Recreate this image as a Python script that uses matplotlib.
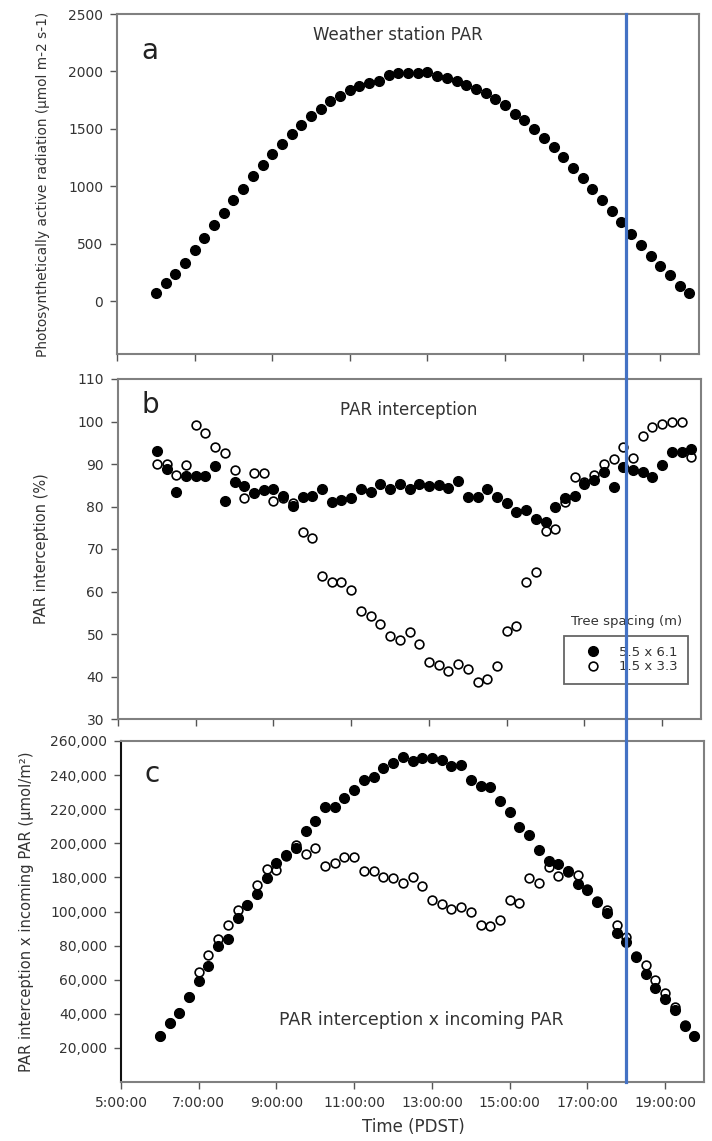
import numpy as np
import matplotlib
matplotlib.use('Agg')
import matplotlib.pyplot as plt
from matplotlib.lines import Line2D
from matplotlib.ticker import FuncFormatter

# readings every 15 minutes, 6:00 .. 19:45 (PDST, decimal hours)
times = np.arange(6.0, 19.76, 0.25)

# a: weather station PAR (umol m-2 s-1)
par_station = [72, 159, 238, 330, 443, 550, 660, 771, 878, 979,
               1089, 1188, 1278, 1365, 1454, 1535, 1611, 1672, 1741, 1787,
               1840, 1869, 1900, 1921, 1973, 1990, 1987, 1990, 1999, 1964,
               1947, 1921, 1886, 1848, 1814, 1761, 1712, 1631, 1573, 1501,
               1420, 1338, 1254, 1159, 1075, 976, 884, 785, 687, 585,
               492, 397, 310, 226, 133, 72]

# b: PAR interception (%)
icpt_wide = [93.1, 88.8, 83.4, 87.2, 87.2, 87.2, 89.6, 81.3, 85.8, 84.9,
             83.1, 83.8, 84.2, 82.5, 80.1, 82.3, 82.5, 84.1, 81.0, 81.6,
             81.9, 84.1, 83.3, 85.3, 84.2, 85.3, 84.2, 85.2, 84.9, 85.0,
             84.4, 85.9, 82.3, 82.3, 84.1, 82.2, 80.8, 78.8, 79.2, 77.1,
             76.4, 79.8, 82.0, 82.5, 85.3, 86.3, 88.2, 84.5, 89.4, 88.6,
             88.1, 86.9, 89.7, 92.9, 92.9, 93.5]
icpt_dense = [90.0, 90.0, 87.4, 89.8, 99.1, 97.3, 94.0, 92.5, 88.6, 82.1,
              88.0, 88.0, 81.4, 82.0, 80.8, 74.1, 72.7, 63.7, 62.2, 62.2,
              60.4, 55.5, 54.2, 52.3, 49.6, 48.7, 50.4, 47.6, 43.5, 42.7,
              41.3, 42.9, 41.8, 38.7, 39.5, 42.5, 50.8, 52.0, 62.2, 64.6,
              74.3, 74.8, 81.1, 86.9, 85.8, 87.5, 90.1, 91.1, 93.9, 91.4,
              96.7, 98.7, 99.5, 99.8, 100.0, 91.6]

# c: PAR interception x incoming PAR (umol/m2)
prod_wide = [27200, 34600, 40500, 49800, 59000, 68300, 79800, 83700, 96300, 114900,
             142200, 179600, 188500, 193000, 197200, 207000, 213000, 221000, 221000, 226600,
             231500, 237200, 239100, 244200, 247100, 250400, 248100, 250000, 249800, 248600,
             245500, 246100, 237200, 233800, 233100, 225100, 218300, 209500, 205000, 195900,
             189400, 187700, 183600, 165600, 150000, 122800, 98900, 87200, 82300, 73400,
             63600, 55300, 48600, 42000, 33100, 27200]
prod_dense = [27000, 34400, 40300, 49600, 64800, 74500, 83900, 92100, 103300, 115500,
              161600, 184800, 184400, 192500, 198800, 193900, 197200, 186700, 188700, 192200,
              191800, 184000, 183600, 180300, 178300, 167200, 180300, 160200, 126600, 117300,
              104800, 109500, 99800, 92100, 91700, 95000, 126600, 120400, 178300, 167900,
              186100, 180700, 183300, 181700, 152000, 123500, 103300, 92100, 85200, 73700,
              68700, 59900, 52100, 43800, 33200, 27000]

spacing_labels = ['5.5 x 6.1', '1.5 x 3.3']
hour_ticks = [5, 7, 9, 11, 13, 15, 17, 19]
a_ticks = [0, 500, 1000, 1500, 2000, 2500]
b_ticks = [30, 40, 50, 60, 70, 80, 90, 100, 110]
# the printed axis of panel c jumps from 100,000 to 180,000 in one step
c_ticks = [20000, 40000, 60000, 80000, 100000, 180000, 200000, 220000, 240000, 260000]
marker_time = 18.0

TXT = '#333333'
SPINE = '#808080'

c_in = [-1e6, 0, 100000, 180000, 260000, 1e6]
c_out = [-1e6, 0, 100000, 120000, 200000, 940000]


def c_fwd(y):
    return np.interp(y, c_in, c_out)


def c_inv(y):
    return np.interp(y, c_out, c_in)


def style_axes(ax, yticks):
    ax.set_xlim(5, 20)
    ax.set_xticks(hour_ticks)
    ax.set_yticks(yticks)
    for s in ax.spines.values():
        s.set_color(SPINE)
        s.set_linewidth(1.5)
    ax.tick_params(direction='out', length=5, width=1, color='#555555',
                   labelsize=10, labelcolor=TXT, pad=5)


def main():
    fig = plt.figure(figsize=(7.12, 11.41), dpi=100)
    W, H = 712.0, 1141.0

    def box(l, r, t, b):
        return [l / W, 1 - b / H, (r - l) / W, (b - t) / H]

    ax_a = fig.add_axes(box(117, 699, 14, 354))
    ax_b = fig.add_axes(box(118, 701, 379, 719))
    ax_c = fig.add_axes(box(121, 704, 741, 1082))

    # a
    ax_a.plot(times, par_station, 'o', color='black', ms=7)
    style_axes(ax_a, a_ticks)
    ax_a.set_ylim(-460, 2500)
    ax_a.set_xticklabels([])
    ax_a.set_ylabel('Photosynthetically active radiation (µmol m-2 s-1)',
                    fontsize=9.9, color=TXT)
    ax_a.yaxis.set_label_coords(-0.115, 0.5)
    ax_a.text(0.042, 0.868, 'a', transform=ax_a.transAxes, fontsize=20,
              color='#222222', va='baseline')
    ax_a.text(0.483, 0.9235, 'Weather station PAR', transform=ax_a.transAxes,
              fontsize=12, color=TXT, ha='center', va='baseline')

    # b
    h_open, = ax_b.plot(times, icpt_dense, 'o', mfc='white', mec='black', mew=1.2,
                        ms=6.3, zorder=2)
    h_fill, = ax_b.plot(times, icpt_wide, 'o', color='black', ms=7, zorder=3)
    style_axes(ax_b, b_ticks)
    ax_b.set_ylim(30, 110)
    ax_b.set_xticklabels([])
    ax_b.set_ylabel('PAR interception (%)', fontsize=10.5, color=TXT)
    ax_b.yaxis.set_label_coords(-0.118, 0.5)
    ax_b.text(0.04, 0.9, 'b', transform=ax_b.transAxes, fontsize=20,
              color='#222222', va='baseline')
    ax_b.text(0.499, 0.894, 'PAR interception', transform=ax_b.transAxes,
              fontsize=12, color=TXT, ha='center', va='baseline')
    leg = ax_b.legend([h_fill, h_open], spacing_labels, loc='lower right',
                      bbox_to_anchor=(0.978, 0.103), borderaxespad=0,
                      fancybox=False, framealpha=1, edgecolor='#666666',
                      fontsize=9.5, handlelength=2.8, handletextpad=0.6,
                      borderpad=0.8, labelspacing=0.1)
    leg.get_frame().set_linewidth(1.3)
    for t in leg.get_texts():
        t.set_color(TXT)
    ax_b.text(0.873, 0.276, 'Tree spacing (m)', transform=ax_b.transAxes,
              fontsize=9.5, color=TXT, ha='center', va='baseline')

    # c
    ax_c.plot(times, prod_dense, 'o', mfc='white', mec='black', mew=1.2,
              ms=6.3, zorder=2)
    ax_c.plot(times, prod_wide, 'o', color='black', ms=7, zorder=3)
    ax_c.set_yscale('function', functions=(c_fwd, c_inv))
    style_axes(ax_c, c_ticks)
    ax_c.set_ylim(0, 260000)
    ax_c.yaxis.set_major_formatter(FuncFormatter(lambda v, p: '{:,.0f}'.format(v)))
    ax_c.yaxis.set_minor_locator(plt.NullLocator())
    ax_c.set_xticklabels(['%d:00:00' % h for h in hour_ticks])
    ax_c.spines['left'].set_color('#111111')
    ax_c.set_ylabel('PAR interception x incoming PAR (µmol/m²)', fontsize=10.6,
                    color=TXT)
    ax_c.yaxis.set_label_coords(-0.149, 0.5)
    ax_c.set_xlabel('Time (PDST)', fontsize=12, color=TXT)
    ax_c.xaxis.set_label_coords(0.501, -0.105)
    ax_c.text(0.041, 0.881, 'c', transform=ax_c.transAxes, fontsize=20,
              color='#222222', va='baseline')
    ax_c.text(0.515, 0.167, 'PAR interception x incoming PAR',
              transform=ax_c.transAxes, fontsize=12.5, color=TXT,
              ha='center', va='baseline')

    # blue marker line at 18:00 running through all three panels
    x_fig = fig.transFigure.inverted().transform(
        ax_c.transData.transform((marker_time, 100000)))[0]
    y_top = ax_a.get_position().y1
    y_bot = ax_c.get_position().y0
    fig.add_artist(Line2D([x_fig, x_fig], [y_bot, y_top], color='#4472C4',
                          lw=2.3, transform=fig.transFigure))

    fig.savefig('out.png', dpi=100)


if __name__ == '__main__':
    main()
